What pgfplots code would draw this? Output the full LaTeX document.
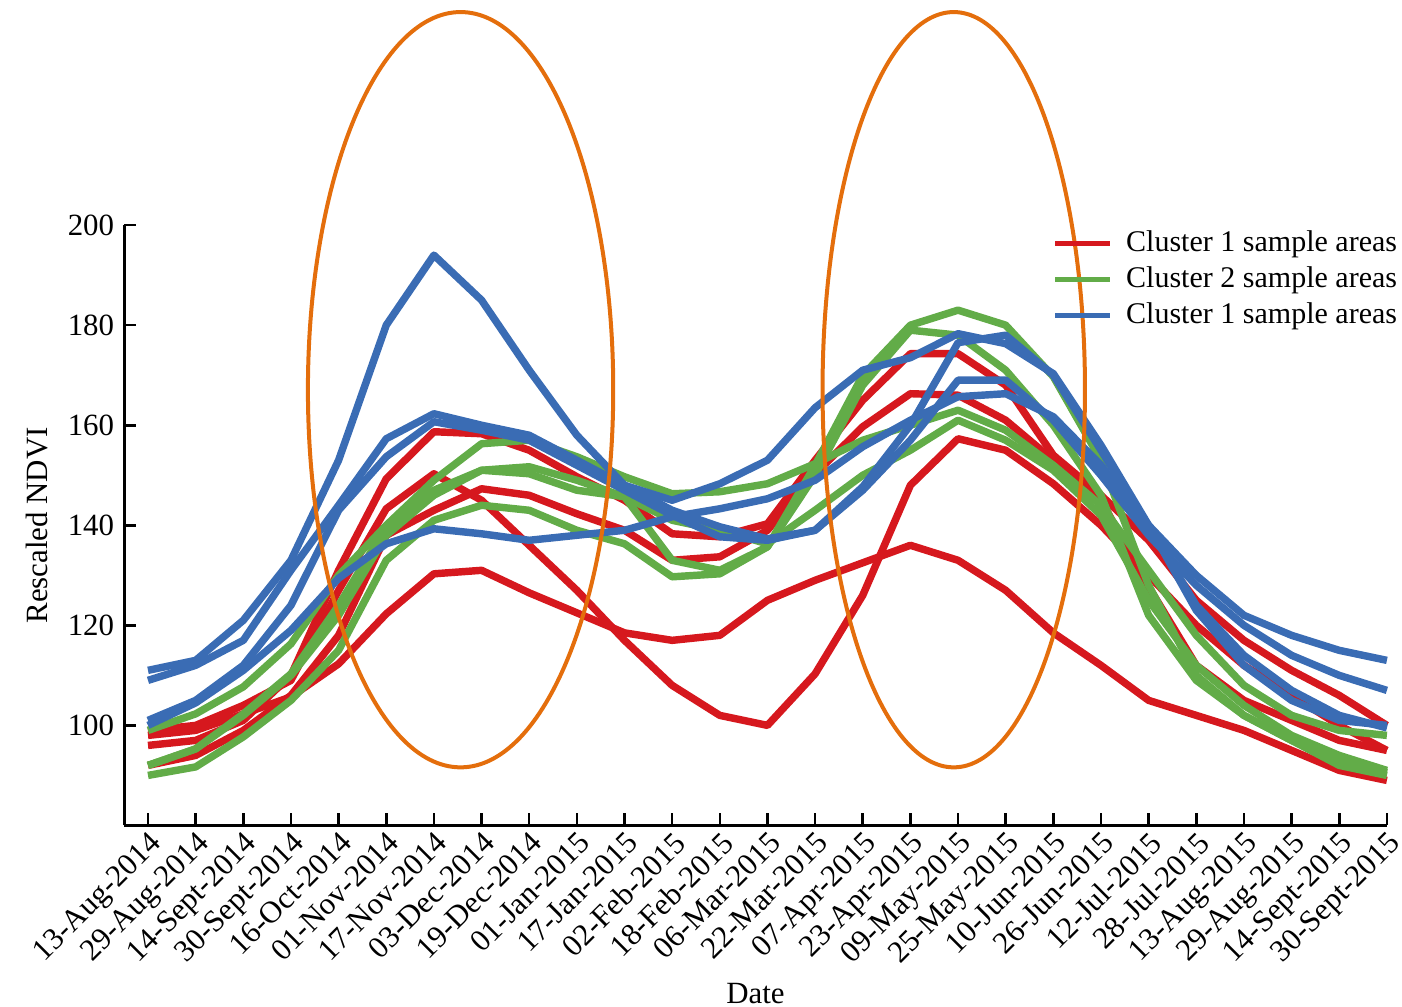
\documentclass[border=0pt]{standalone}
\usepackage{fontspec}
\setmainfont{Liberation Serif}
\usepackage{pgfplots}
\usepackage{pgfplotstable}
\pgfplotsset{compat=1.18}

\definecolor{cred}{RGB}{214,24,30}
\definecolor{cgreen}{RGB}{98,172,72}
\definecolor{cblue}{RGB}{58,108,180}
\definecolor{corange}{RGB}{228,110,12}

% rescaled NDVI, one column per sample area
\pgfplotstableread{
i  ra    rb    rc    rd    ga    gb    gc    gd    ba    bb    bc    bd
0  96    99    98    92    99    92    92    90    111   109   101   100
1  97    100   99    94    102.3 95.3  95.3  91.7  113   112   105   104.5
2  101   104   102.3 99    107.7 102.3 102   97.7  121   117   112   111
3  110   109   105.7 106   116.3 110.3 110   105   133   131   124   119
4  131   127   112.3 118   130   124   122   115   153   144   143   129.4
5  149.3 143.3 122.3 138   140   139.7 138   133   180   157.3 153.7 136.3
6  158.7 150.3 130.3 143   149   147   146   141   194   162.3 160.7 139.3
7  158.3 145   131   147.3 156.3 151   151   144   185   160   159   138.3
8  155   136   126.5 146   157   151.7 150.3 143   171   158   157   137
9  149.7 127   122.5 142.3 153.7 149   147   139   158   153   152   138
10 145   117   118.5 139   149.7 145.7 145.7 136.3 148   148   147   139
11 138.3 108   117   133   146.3 141   133   129.7 145   143   142   141.7
12 137.7 102   118   133.7 146.7 139   131   130.3 148.3 139.7 137.7 143.3
13 140.3 100   125   139   148.3 136.3 135.7 135.7 153   137.3 137   145.3
14 153   110.3 129   150.3 152.3 143   152   150   163.5 139   139   149
15 165   126   132.5 159.7 157   150   170   168   171   147.7 147   155.7
16 174.3 148   136   166.3 160   155   180   179   173.5 160   157   161
17 174.3 157.3 133   166   163   161   183   178   178.3 176.5 169   165.7
18 168   155   127   161   159   157   180   171   176.3 178   169   166.3
19 154   148.3 118.5 153   152   151   169.7 160   170.3 170   161   161.7
20 146   140   112   145   144   142   153   146   156   155   150   152
21 137   130   105   127.7 131   125   128   122   140   139.7 138   140
22 125   120   102   112   118   112   110   109   130   124   128   123
23 117   112   99    105   108   104   102   102   122   114   120   112
24 111   106   95    101   102   98    97    97    118   107   114   105
25 106   100   91    97    99    94    93    92    115   102   110   101
26 100   95    89    95    98    91    90.5  90    113   99.5  107   100
}\ndvi

\begin{document}
\begin{tikzpicture}
\begin{axis}[
    scale only axis,
    width=441.7pt, height=210pt,
    xmin=-0.5, xmax=26,
    ymin=80, ymax=200,
    axis x line*=bottom,
    axis y line*=left,
    axis line style={line width=1pt},
    clip=false,
    xtick={0,...,26},
    xticklabels={13-Aug-2014,29-Aug-2014,14-Sept-2014,30-Sept-2014,16-Oct-2014,01-Nov-2014,17-Nov-2014,03-Dec-2014,19-Dec-2014,01-Jan-2015,17-Jan-2015,02-Feb-2015,18-Feb-2015,06-Mar-2015,22-Mar-2015,07-Apr-2015,23-Apr-2015,09-May-2015,25-May-2015,10-Jun-2015,26-Jun-2015,12-Jul-2015,28-Jul-2015,13-Aug-2015,29-Aug-2015,14-Sept-2015,30-Sept-2015},
    ytick={100,120,...,200},
    tick align=inside,
    major tick length=4.2pt,
    tick style={black, line width=0.9pt},
    /pgf/number format/assume math mode=true,
    ticklabel style={font=\fontsize{10.8}{12.6}\selectfont},
    xticklabel style={rotate=45, anchor=north east, inner sep=1pt},
    xlabel={Date},
    ylabel={Rescaled NDVI},
    label style={font=\fontsize{10.8}{12.6}\selectfont},
    every axis plot/.append style={no markers, line width=2.6pt, line join=round},
    legend cell align=left,
    legend style={at={(rel axis cs:0.7282,1.010)}, anchor=north west,
        draw=none, fill=none, font=\fontsize{10.5}{12.6}\selectfont,
        row sep=-0.2pt},
    legend image code/.code={\draw[#1, line width=1.7pt] (0pt,0pt) -- (19pt,0pt); \path (21.5pt,0pt);},
]
\addplot[cred] table[x=i, y=ra] {\ndvi};
\addlegendentry{Cluster 1 sample areas}
\addplot[cred, forget plot] table[x=i, y=rb] {\ndvi};
\addplot[cred, forget plot] table[x=i, y=rc] {\ndvi};
\addplot[cred, forget plot] table[x=i, y=rd] {\ndvi};

\addplot[cgreen] table[x=i, y=ga] {\ndvi};
\addlegendentry{Cluster 2 sample areas}
\addplot[cgreen, forget plot] table[x=i, y=gb] {\ndvi};
\addplot[cgreen, forget plot] table[x=i, y=gc] {\ndvi};
\addplot[cgreen, forget plot] table[x=i, y=gd] {\ndvi};

\addplot[cblue] table[x=i, y=ba] {\ndvi};
\addlegendentry{Cluster 1 sample areas}
\addplot[cblue, forget plot] table[x=i, y=bb] {\ndvi};
\addplot[cblue, forget plot] table[x=i, y=bc] {\ndvi};
\addplot[cblue, forget plot] table[x=i, y=bd] {\ndvi};

% highlighted periods
\draw[corange, line width=1.4pt] (axis cs:6.56,167.1) ellipse [x radius=53.4pt, y radius=132.1pt];
\draw[corange, line width=1.4pt] (axis cs:16.91,167.1) ellipse [x radius=45.9pt, y radius=132.1pt];

% page corners with the reference's margins
\coordinate (pagetl) at (axis cs:-3.106,245);
\coordinate (pagebr) at (axis cs:26.317,43.8);
\end{axis}
\pgfresetboundingbox
\useasboundingbox (pagetl) rectangle (pagebr);
\end{tikzpicture}
\end{document}
